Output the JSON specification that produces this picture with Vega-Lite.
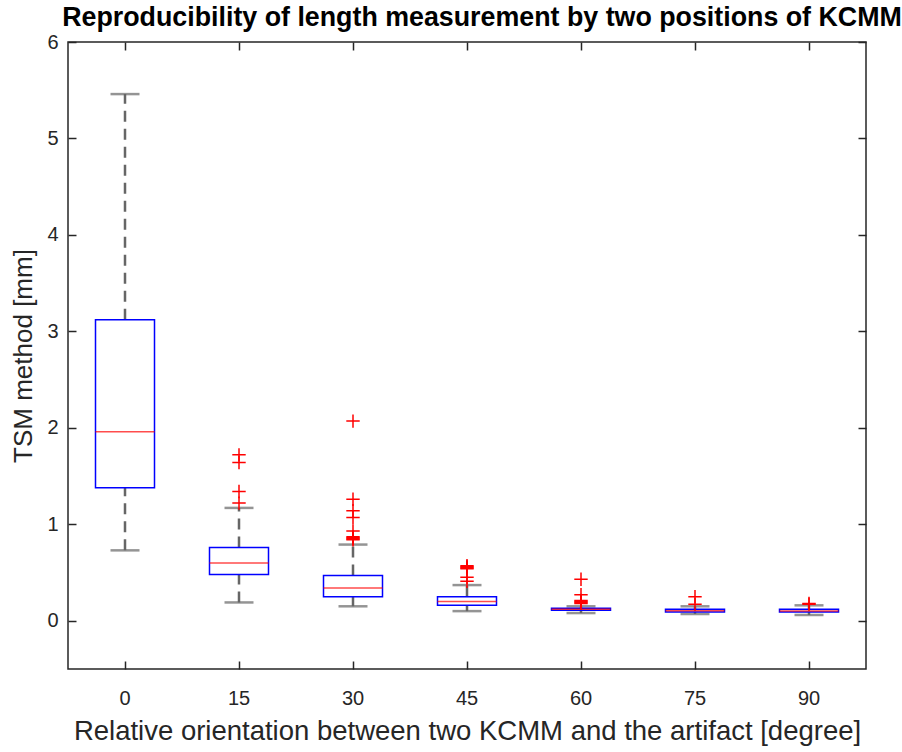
{
  "$schema": "https://vega.github.io/schema/vega-lite/v6.json",
  "width": 798,
  "height": 627,
  "autosize": {"type": "none"},
  "padding": {"left": 68, "top": 42, "right": 36, "bottom": 83},
  "background": "white",
  "title": {"text": "Reproducibility of length measurement by two positions of KCMM", "font": "Liberation Sans", "fontSize": 26.8, "fontWeight": "bold", "color": "#000000", "offset": 0, "anchor": "middle", "dx": 15},
  "config": {
    "view": {"stroke": "#262626", "strokeWidth": 1.5},
    "axis": {"grid": false, "domain": false, "tickColor": "#262626", "tickWidth": 1.5, "tickSize": -8, "labelFont": "Liberation Sans", "labelFontSize": 20, "labelColor": "#262626", "titleFont": "Liberation Sans", "titleFontSize": 26, "titleFontWeight": "normal", "titleColor": "#262626"}
  },
  "datasets": {
    "stats": [
      {"angle": "0", "lo": 0.73, "q1": 1.38, "med": 1.96, "q3": 3.12, "hi": 5.46},
      {"angle": "15", "lo": 0.19, "q1": 0.48, "med": 0.60, "q3": 0.76, "hi": 1.17},
      {"angle": "30", "lo": 0.15, "q1": 0.25, "med": 0.34, "q3": 0.47, "hi": 0.79},
      {"angle": "45", "lo": 0.10, "q1": 0.16, "med": 0.20, "q3": 0.25, "hi": 0.37},
      {"angle": "60", "lo": 0.08, "q1": 0.11, "med": 0.12, "q3": 0.13, "hi": 0.15},
      {"angle": "75", "lo": 0.07, "q1": 0.09, "med": 0.105, "q3": 0.12, "hi": 0.15},
      {"angle": "90", "lo": 0.06, "q1": 0.09, "med": 0.10, "q3": 0.12, "hi": 0.16}
    ],
    "out": [
      {"angle": "15", "v": 1.72}, {"angle": "15", "v": 1.64}, {"angle": "15", "v": 1.34}, {"angle": "15", "v": 1.22},
      {"angle": "30", "v": 2.07}, {"angle": "30", "v": 1.26}, {"angle": "30", "v": 1.14}, {"angle": "30", "v": 1.07}, {"angle": "30", "v": 0.93}, {"angle": "30", "v": 0.87}, {"angle": "30", "v": 0.86}, {"angle": "30", "v": 0.85}, {"angle": "30", "v": 0.84},
      {"angle": "45", "v": 0.57}, {"angle": "45", "v": 0.56}, {"angle": "45", "v": 0.55}, {"angle": "45", "v": 0.54}, {"angle": "45", "v": 0.45}, {"angle": "45", "v": 0.41},
      {"angle": "60", "v": 0.43}, {"angle": "60", "v": 0.27}, {"angle": "60", "v": 0.21}, {"angle": "60", "v": 0.20}, {"angle": "60", "v": 0.19}, {"angle": "60", "v": 0.18},
      {"angle": "75", "v": 0.25}, {"angle": "75", "v": 0.17},
      {"angle": "90", "v": 0.18}, {"angle": "90", "v": 0.17}
    ]
  },
  "layer": [
    {
      "data": {"name": "stats"},
      "mark": {"type": "rule", "color": "#666666", "strokeWidth": 2.5, "strokeDash": [11, 7]},
      "encoding": {
        "x": {"field": "angle", "type": "ordinal", "sort": ["0", "15", "30", "45", "60", "75", "90"], "scale": {"paddingInner": 0, "paddingOuter": 0}, "axis": {"orient": "bottom", "title": "Relative orientation between two KCMM and the artifact [degree]", "titleFontSize": 27.5, "labelAngle": 0, "labelPadding": 27, "titlePadding": 9}},
        "y": {"field": "lo", "type": "quantitative", "scale": {"domain": [-0.5, 6], "nice": false, "zero": false}, "axis": {"orient": "left", "values": [0, 1, 2, 3, 4, 5, 6], "title": "TSM method [mm]", "labelPadding": 18, "titlePadding": 10}},
        "y2": {"field": "q1"}
      }
    },
    {
      "data": {"name": "stats"},
      "mark": {"type": "rule", "color": "#666666", "strokeWidth": 2.5, "strokeDash": [11, 7]},
      "encoding": {
        "x": {"field": "angle", "type": "ordinal", "sort": ["0", "15", "30", "45", "60", "75", "90"], "axis": {"orient": "top", "labels": false, "title": null}},
        "y": {"field": "q3", "type": "quantitative", "axis": {"orient": "right", "values": [0, 1, 2, 3, 4, 5, 6], "labels": false, "title": null}},
        "y2": {"field": "hi"}
      }
    },
    {
      "data": {"name": "stats"},
      "mark": {"type": "tick", "color": "#666666", "thickness": 2.5, "size": 29},
      "encoding": {
        "x": {"field": "angle", "type": "ordinal", "sort": ["0", "15", "30", "45", "60", "75", "90"], "axis": null},
        "y": {"field": "lo", "type": "quantitative", "axis": null}
      }
    },
    {
      "data": {"name": "stats"},
      "mark": {"type": "tick", "color": "#666666", "thickness": 2.5, "size": 29},
      "encoding": {
        "x": {"field": "angle", "type": "ordinal", "sort": ["0", "15", "30", "45", "60", "75", "90"], "axis": null},
        "y": {"field": "hi", "type": "quantitative", "axis": null}
      }
    },
    {
      "data": {"name": "stats"},
      "mark": {"type": "bar", "fill": "white", "fillOpacity": 0, "stroke": "#0000ff", "strokeWidth": 1.5, "width": 59},
      "encoding": {
        "x": {"field": "angle", "type": "ordinal", "sort": ["0", "15", "30", "45", "60", "75", "90"], "axis": null},
        "y": {"field": "q1", "type": "quantitative", "axis": null},
        "y2": {"field": "q3"}
      }
    },
    {
      "data": {"name": "stats"},
      "mark": {"type": "tick", "color": "#ff0000", "thickness": 1.5, "size": 59},
      "encoding": {
        "x": {"field": "angle", "type": "ordinal", "sort": ["0", "15", "30", "45", "60", "75", "90"], "axis": null},
        "y": {"field": "med", "type": "quantitative", "axis": null}
      }
    },
    {
      "data": {"name": "out"},
      "mark": {"type": "point", "shape": "M-1,0H1M0,-1V1", "filled": false, "stroke": "#ff0000", "strokeWidth": 1.5, "size": 180, "opacity": 1},
      "encoding": {
        "x": {"field": "angle", "type": "ordinal", "sort": ["0", "15", "30", "45", "60", "75", "90"], "axis": null},
        "y": {"field": "v", "type": "quantitative", "axis": null}
      }
    }
  ],
  "resolve": {"axis": {"x": "independent", "y": "independent"}}
}
